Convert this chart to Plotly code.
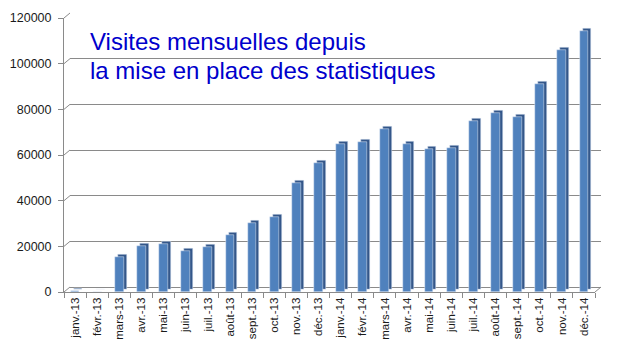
import plotly.graph_objects as go

months = ["janv.-13", "févr.-13", "mars-13", "avr.-13", "mai-13", "juin-13", "juil.-13",
          "août-13", "sept.-13", "oct.-13", "nov.-13", "déc.-13",
          "janv.-14", "févr.-14", "mars-14", "avr.-14", "mai-14", "juin-14", "juil.-14",
          "août-14", "sept.-14", "oct.-14", "nov.-14", "déc.-14"]
visits = [250, 150, 15500, 20300, 21100, 18000, 19500, 24800, 30300, 32700, 47900, 56500,
          64700, 65600, 71500, 64700, 62800, 63200, 74900, 78600, 76700, 91300, 105900, 114400]
y_ticks = [0, 20000, 40000, 60000, 80000, 100000, 120000]
title_lines = ["Visites mensuelles depuis", "la mise en place des statistiques"]

W, H = 620, 353
L, R, T, B = 64, 17, 13, 61
pw, ph = W - L - R, H - T - B  # 539 x 279
front_w, front_h = 531, 274
back_dx, back_dy = 6, 5
side_dx, side_dy = 3, 2.5

fx = [0, front_w / pw]
fy = [0, front_h / ph]
bx = [back_dx / pw, (front_w + back_dx) / pw]
by = [back_dy / ph, (front_h + back_dy) / ph]
sx = [side_dx / pw, (front_w + side_dx) / pw]
sy = [side_dy / ph, (front_h + side_dy) / ph]

grid_col = "#8a8a8a"
ymax = 120000
xr = [-0.5, len(months) - 0.5]

fig = go.Figure()
# back wall (gridlines)
fig.add_trace(go.Scatter(x=[months[0]], y=[0], xaxis="x", yaxis="y", mode="markers",
                         marker=dict(opacity=0), hoverinfo="skip", showlegend=False))
# bar depth (side)
fig.add_trace(go.Bar(x=months, y=visits, xaxis="x2", yaxis="y2", width=0.4,
                     marker=dict(color="#34578a"), showlegend=False, hoverinfo="skip"))
# bar front
fig.add_trace(go.Bar(x=months, y=visits, xaxis="x3", yaxis="y3", width=0.4,
                     marker=dict(color="#4f81bd"), showlegend=False))

hidden = dict(showgrid=False, zeroline=False, showline=False, showticklabels=False, ticks="",
              automargin=False)
fig.update_layout(
    width=W, height=H, margin=dict(l=L, r=R, t=T, b=B),
    paper_bgcolor="white", plot_bgcolor="rgba(0,0,0,0)",
    font=dict(family="Liberation Sans, Arial, sans-serif", color="#1a1a1a"),
    xaxis=dict(domain=bx, range=xr, anchor="y", type="category", categoryarray=months, **hidden),
    yaxis=dict(domain=by, range=[0, ymax], anchor="x", showgrid=True, gridcolor=grid_col,
               gridwidth=1, tickvals=y_ticks, showticklabels=False, ticks="", automargin=False,
               zeroline=True, zerolinecolor=grid_col, zerolinewidth=1, showline=False),
    xaxis2=dict(domain=sx, range=xr, anchor="y2", type="category", categoryarray=months, **hidden),
    yaxis2=dict(domain=sy, range=[0, ymax], anchor="x2", **hidden),
    xaxis3=dict(domain=fx, range=xr, anchor="y3", type="category", categoryarray=months,
                tickson="boundaries", tickangle=-90, tickfont=dict(size=11.5, color="#1a1a1a"),
                ticks="outside", ticklen=5, tickcolor=grid_col, showline=True, automargin=False,
                linecolor=grid_col, linewidth=1, showgrid=False, zeroline=False),
    yaxis3=dict(domain=fy, range=[0, ymax], anchor="x3", tickvals=y_ticks,
                ticktext=[str(v) for v in y_ticks], tickfont=dict(size=12.5, color="#1a1a1a"),
                ticks="outside", ticklen=5, tickcolor=grid_col, ticklabelstandoff=4,
                automargin=False,
                showline=True, linecolor=grid_col, linewidth=1, showgrid=False, zeroline=False),
    bargap=0,
)

shapes = []
for v in y_ticks:
    yf = fy[0] + v / ymax * (fy[1] - fy[0])
    yb = by[0] + v / ymax * (by[1] - by[0])
    shapes.append(dict(type="line", xref="paper", yref="paper", x0=fx[0], y0=yf,
                       x1=bx[0], y1=yb, line=dict(color=grid_col, width=1)))
shapes.append(dict(type="line", xref="paper", yref="paper", x0=fx[1], y0=fy[0],
                   x1=bx[1], y1=by[0], line=dict(color=grid_col, width=1)))
fig.update_layout(shapes=shapes)

title_mid_px = [41.5, 70]
for line, ypx in zip(title_lines, title_mid_px):
    fig.add_annotation(text=line, xref="paper", yref="paper",
                       x=(88 - L) / pw, y=(H - B - ypx) / ph, xanchor="left", yanchor="middle",
                       align="left", showarrow=False,
                       font=dict(size=24, color="#0000cc",
                                 family="Liberation Sans, Arial, sans-serif"))

fig.write_html("out.html")
